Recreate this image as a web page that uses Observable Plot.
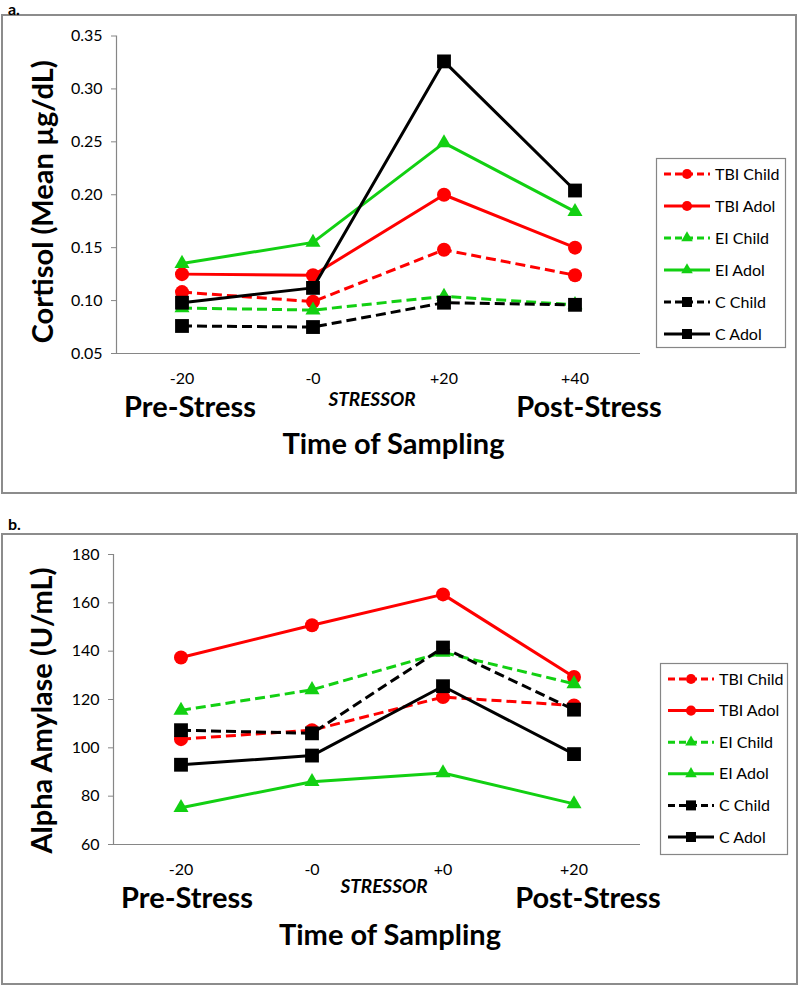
<!DOCTYPE html>
<html><head><meta charset="utf-8">
<script src="https://cdn.jsdelivr.net/npm/d3@7"></script>
<script src="https://cdn.jsdelivr.net/npm/@observablehq/plot@0.6"></script>
<style>
body{margin:0;background:#fff;font-family:Lato,"Noto Sans",sans-serif;}
#page{position:relative;width:800px;height:986px;overflow:hidden;background:#fff;}
.frame{position:absolute;border:2px solid #8c8c8c;box-sizing:border-box;}
.plabel{position:absolute;font-weight:bold;font-size:16px;font-family:Lato,sans-serif;line-height:16px;}
.abs{position:absolute;left:0;}
</style></head><body><div id="page"></div>
<script>
// ---- series definitions ----
const seriesNames   = ["TBI Child","TBI Adol","EI Child","EI Adol","C Child","C Adol"];
const seriesColors  = ["#ff0000","#ff0000","#12d012","#12d012","#000000","#000000"];
const seriesDashed  = [true,false,true,false,true,false];
const seriesSymbols = ["circle","circle","triangle","triangle","square","square"];

// ---- panel a: cortisol ----
const cortisolTimes = ["-20","-0","+20","+40"];
const cortisolTicks = [0.05,0.10,0.15,0.20,0.25,0.30,0.35];
const cortisolTbiChild = [0.108,0.099,0.148,0.124];
const cortisolTbiAdol  = [0.125,0.124,0.200,0.150];
const cortisolEiChild  = [0.093,0.091,0.104,0.096];
const cortisolEiAdol   = [0.135,0.155,0.249,0.184];
const cortisolCChild   = [0.076,0.075,0.098,0.096];
const cortisolCAdol    = [0.098,0.112,0.326,0.204];

// ---- panel b: alpha amylase ----
const amylaseTimes = ["-20","-0","+0","+20"];
const amylaseTicks = [60,80,100,120,140,160,180];
const amylaseTbiChild = [103.6,107.3,121.0,117.5];
const amylaseTbiAdol  = [137.4,150.7,163.5,129.3];
const amylaseEiChild  = [115.5,124.0,139.5,126.5];
const amylaseEiAdol   = [75.2,86.0,89.6,76.8];
const amylaseCChild   = [107.3,106.0,141.5,115.8];
const amylaseCAdol    = [93.0,96.8,125.5,97.4];

const page = document.getElementById("page");
const GRAY = "#868686";
const FONT = "Lato, 'Noto Sans', sans-serif";

function addDiv(cls, css, text) {
  const d = document.createElement("div");
  d.className = cls;
  Object.assign(d.style, css);
  if (text) d.textContent = text;
  page.appendChild(d);
  return d;
}

function panel(o) {
  const data = [];
  seriesNames.forEach((s, i) => o.values[i].forEach((v, j) => data.push({series: s, i, time: o.times[j], value: v})));
  const bold = {fontSize: 29, fontWeight: "bold", fill: "black"};
  const marks = [
    Plot.ruleY([o.yDomain[0]], {stroke: GRAY, strokeWidth: 1.2}),
    Plot.frame({anchor: "left", stroke: GRAY, strokeWidth: 1.2}),
    Plot.axisY({ticks: o.yTicks, tickFormat: o.yFormat, tickSize: 5, tickPadding: 9, stroke: GRAY, fontSize: 16, label: null}),
    Plot.axisX({tickSize: 0, tickPadding: 19, fontSize: 16, label: null}),
    Plot.text([o.yTitle], {text: d => d, frameAnchor: "left", textAnchor: "middle", lineAnchor: "middle", rotate: -90, dx: o.titleDx, dy: o.titleDy, ...bold}),
    Plot.text([{t: "Pre-Stress", at: o.times[0]}], {x: "at", text: "t", frameAnchor: "bottom", dy: 63, dx: o.preDx, ...bold}),
    Plot.text([{t: "Post-Stress", at: o.times[3]}], {x: "at", text: "t", frameAnchor: "bottom", dy: 63, dx: o.postDx, ...bold}),
    Plot.text([{t: "STRESSOR", at: o.times[1]}], {x: "at", text: "t", frameAnchor: "bottom", dy: o.stressDy, dx: o.stressDx, fontSize: 19, fontWeight: "bold", fontStyle: "italic", fill: "black"}),
    Plot.text(["Time of Sampling"], {text: d => d, frameAnchor: "bottom", dy: 100, dx: o.timeDx, ...bold})
  ];
  seriesNames.forEach((s, i) => {
    const sd = data.filter(d => d.i === i);
    marks.push(Plot.line(sd, {x: "time", y: "value", stroke: seriesColors[i], strokeWidth: 3,
      strokeDasharray: seriesDashed[i] ? "10,5" : null, strokeLinecap: "butt", strokeLinejoin: "round"}));
    const r = seriesSymbols[i] === "triangle" ? 5.6 : seriesSymbols[i] === "square" ? 7.8 : 7;
    marks.push(Plot.dot(sd, {x: "time", y: "value", symbol: seriesSymbols[i], r, fill: seriesColors[i], stroke: null}));
  });
  const svg = Plot.plot({
    width: 800, height: o.height,
    marginLeft: o.ml, marginRight: 800 - 640, marginTop: o.mt, marginBottom: o.mb,
    x: {type: "band", domain: o.times, padding: 0},
    y: {domain: o.yDomain},
    style: {fontFamily: FONT, fontSize: "16px", color: "black", background: "transparent", overflow: "visible"},
    marks
  });
  svg.classList.add("abs");
  svg.style.top = o.top + "px";
  svg.style.position = "absolute";
  page.appendChild(svg);
}

function legend(left, top, w, h, y0, step) {
  const svg = d3.create("svg").attr("width", w).attr("height", h)
    .style("position", "absolute").style("left", left + "px").style("top", top + "px").style("overflow", "visible");
  svg.append("rect").attr("x", 0.5).attr("y", 0.5).attr("width", w - 1).attr("height", h - 1)
    .attr("fill", "white").attr("stroke", GRAY).attr("stroke-width", 1.2);
  const symbolTypes = {circle: d3.symbolCircle, triangle: d3.symbolTriangle, square: d3.symbolSquare};
  const symbolSizes = {circle: 80, triangle: 58, square: 100};
  seriesNames.forEach((s, i) => {
    const y = y0 + step * i;
    const g = svg.append("g").attr("transform", `translate(0,${y})`);
    g.append("line").attr("x1", 8).attr("x2", 54).attr("y1", 0).attr("y2", 0)
      .attr("stroke", seriesColors[i]).attr("stroke-width", 3)
      .attr("stroke-dasharray", seriesDashed[i] ? "7,4" : null);
    g.append("path").attr("transform", "translate(31,0)")
      .attr("d", d3.symbol().type(symbolTypes[seriesSymbols[i]]).size(symbolSizes[seriesSymbols[i]])())
      .attr("fill", seriesColors[i]);
    g.append("text").attr("x", 59).attr("y", 0).attr("dy", "0.35em")
      .attr("font-family", FONT).attr("font-size", 16).text(s);
  });
  page.appendChild(svg.node());
}

// frames and panel labels
addDiv("frame", {left: "1px", top: "14px", width: "796px", height: "480px"});
addDiv("frame", {left: "1px", top: "533px", width: "797px", height: "452px"});
addDiv("plabel", {left: "8px", top: "1px"}, "a.");
addDiv("plabel", {left: "8px", top: "516px"}, "b.");

panel({
  times: cortisolTimes,
  values: [cortisolTbiChild, cortisolTbiAdol, cortisolEiChild, cortisolEiAdol, cortisolCChild, cortisolCAdol],
  yDomain: [0.05, 0.35], yTicks: cortisolTicks, yFormat: d3.format(".2f"),
  yTitle: "Cortisol (Mean µg/dL)",
  top: 0, height: 490, mt: 35.5, mb: 490 - 353, ml: 116,
  titleDx: -73, titleDy: 7, preDx: 8, postDx: 14, stressDx: 59, stressDy: 52, timeDx: 15
});
panel({
  times: amylaseTimes,
  values: [amylaseTbiChild, amylaseTbiAdol, amylaseEiChild, amylaseEiAdol, amylaseCChild, amylaseCAdol],
  yDomain: [60, 180], yTicks: amylaseTicks, yFormat: d3.format("d"),
  yTitle: "Alpha Amylase (U/mL)",
  top: 500, height: 486, mt: 54, mb: 486 - 344, ml: 113,
  titleDx: -71, titleDy: 11, preDx: 6, postDx: 14, stressDx: 72, stressDy: 48, timeDx: 13
});

legend(656, 158, 130, 190, 16, 32);
legend(660, 663, 128, 192, 16, 31.6);
</script>
</body></html>
